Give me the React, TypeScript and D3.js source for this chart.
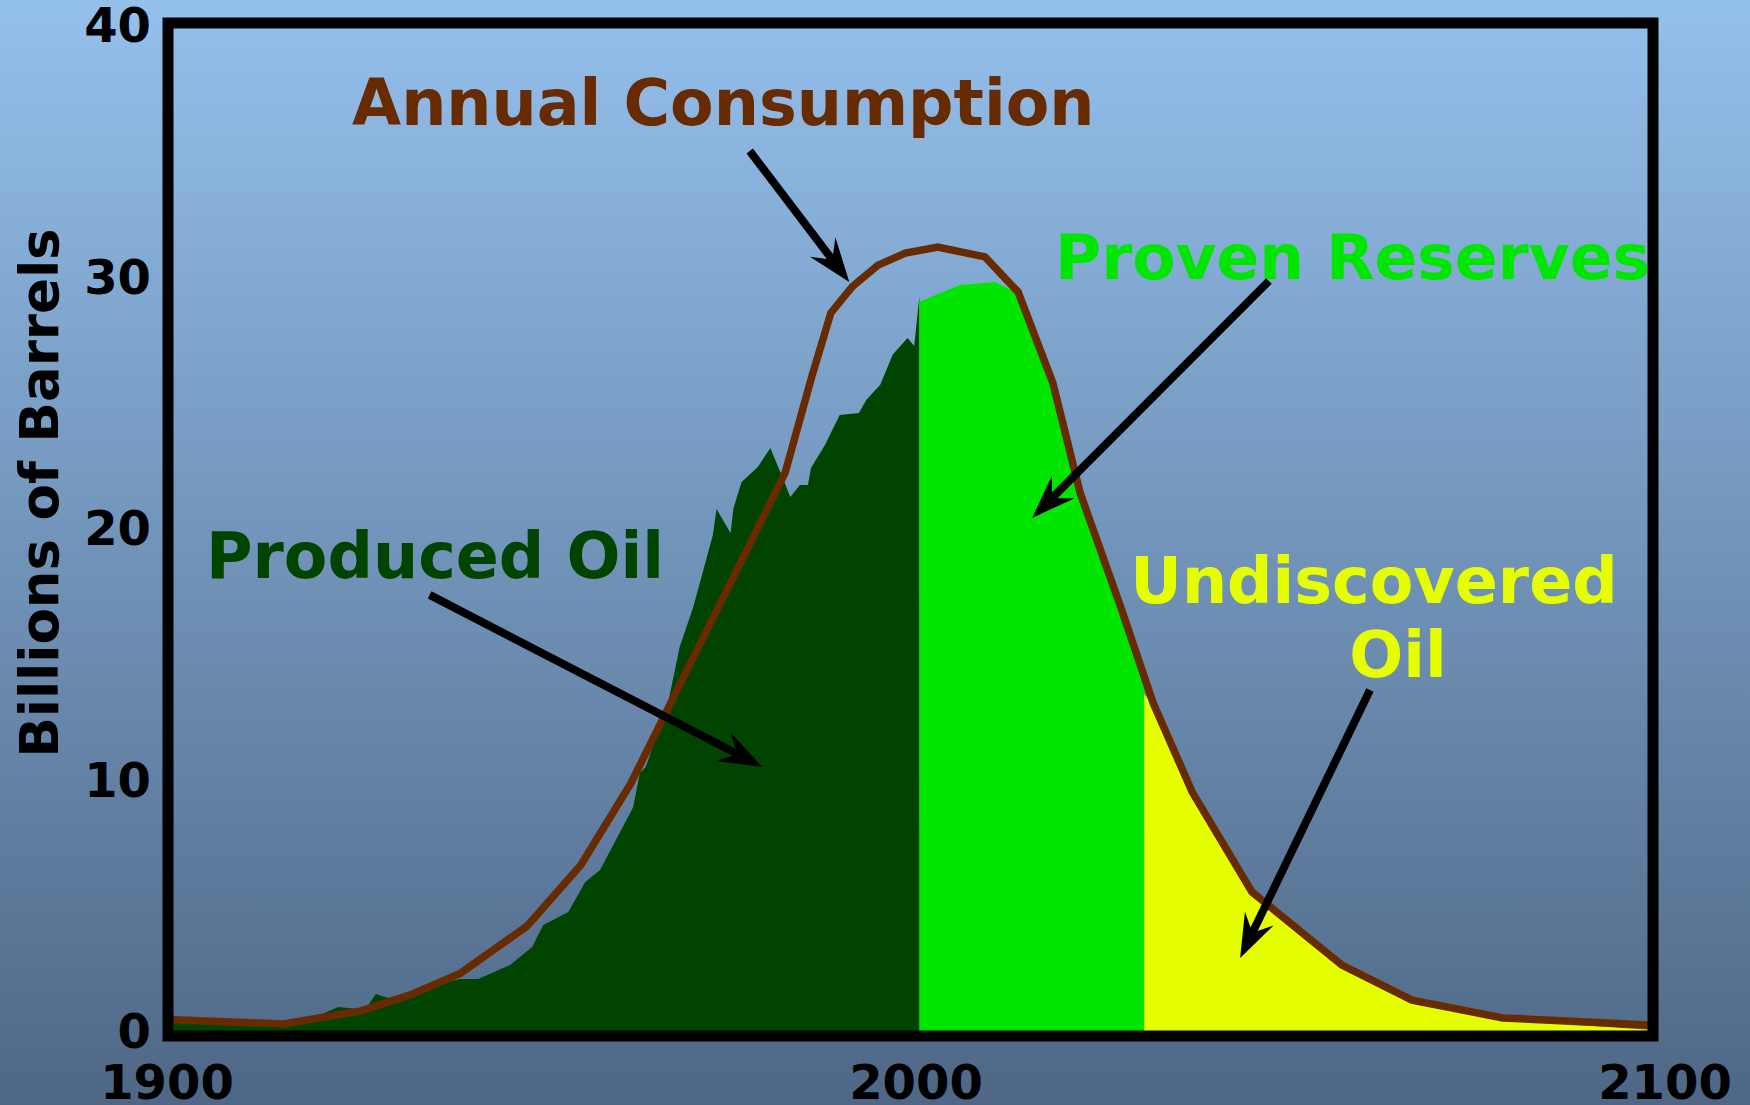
import React from 'react';
import * as d3 from 'd3';

const W = 1750;
const H = 1105;

// Annual consumption (billions of barrels)
const consumptionYears = [1900, 1915, 1925.5, 1932.5, 1939, 1948, 1955.3, 1962, 1983, 1986.6, 1989.2, 1992.1, 1995.6, 1999.3, 2003.7, 2010.1, 2014.6, 2019.3, 2023, 2028.5, 2032.9, 2038.2, 2046.3, 2058.5, 2068, 2080.3, 2100];
const consumptionValues = [0.45, 0.28, 0.8, 1.47, 2.3, 4.17, 6.6, 9.8, 22.2, 26.0, 28.55, 29.6, 30.45, 30.93, 31.17, 30.78, 29.38, 25.77, 21.4, 16.86, 13.04, 9.5, 5.53, 2.62, 1.23, 0.52, 0.24];

// Produced oil (historical production)
const producedYears = [1900, 1915, 1919.9, 1922.4, 1925.1, 1926.4, 1927.5, 1929.2, 1938.9, 1941.4, 1945.7, 1948.7, 1950.2, 1953.6, 1955.9, 1957.9, 1962.4, 1963.3, 1964.1, 1967.1, 1968.7, 1970.5, 1972.1, 1973.2, 1973.7, 1975.6, 1976.0, 1977.1, 1979.3, 1981.0, 1982.4, 1983.7, 1985.0, 1986.1, 1986.5, 1988.4, 1990.4, 1993.0, 1994.0, 1995.9, 1997.6, 1999.6, 2000.5, 2001.2];
const producedValues = [0.35, 0.2, 0.64, 0.95, 0.87, 0.99, 1.47, 1.31, 2.07, 2.07, 2.62, 3.34, 4.21, 4.73, 5.92, 6.4, 8.9, 10.26, 10.5, 13.0, 15.27, 16.82, 18.53, 19.72, 20.76, 19.8, 20.8, 21.83, 22.43, 23.18, 22.19, 21.23, 21.71, 21.71, 22.39, 23.3, 24.49, 24.57, 25.09, 25.7, 26.9, 27.55, 27.24, 29.2];

// Proven reserves
const reservesYears = [2001.2, 2006.7, 2011.5, 2013.9, 2014.6, 2019.3, 2023, 2028.5, 2031.7];
const reservesValues = [29.0, 29.66, 29.78, 29.42, 29.2, 25.6, 21.2, 16.7, 13.6];

// Undiscovered oil
const undiscoveredYears = [2031.7, 2032.9, 2038.2, 2046.3, 2058.5, 2068, 2080.3, 2100];
const undiscoveredValues = [13.4, 12.9, 9.4, 5.45, 2.55, 1.18, 0.45, 0.05];

const yTicks = [0, 10, 20, 30, 40];
const xTicks = [1900, 2000, 2100];

// Arrow annotations: [tailYear, tailValue, tipYear, tipValue]
const arrowConsumption = [1978.2, 34.99, 1991.7, 29.78];
const arrowReserves = [2048.6, 29.82, 2016.5, 20.4];
const arrowProduced = [1934.8, 17.34, 1979.9, 10.5];
const arrowUndiscovered = [2062.3, 13.56, 2044.7, 2.9];

const FONT = '"DejaVu Sans", Verdana, sans-serif';

function zip(a: number[], b: number[]): [number, number][] {
  return a.map((v, i) => [v, b[i]] as [number, number]);
}

function Arrow({ pts, x, y }: { pts: number[]; x: any; y: any }) {
  const x1 = x(pts[0]), y1 = y(pts[1]), x2 = x(pts[2]), y2 = y(pts[3]);
  const dx = x2 - x1, dy = y2 - y1;
  const len = Math.hypot(dx, dy);
  const ux = dx / len, uy = dy / len;
  const px = -uy, py = ux;
  const L = 44, HW = 16, N = 28;
  const b1 = [x2 - ux * L + px * HW, y2 - uy * L + py * HW];
  const b2 = [x2 - ux * L - px * HW, y2 - uy * L - py * HW];
  const nt = [x2 - ux * N, y2 - uy * N];
  const head = `M${x2},${y2}L${b1[0]},${b1[1]}L${nt[0]},${nt[1]}L${b2[0]},${b2[1]}Z`;
  return (
    <g>
      <line x1={x1} y1={y1} x2={nt[0]} y2={nt[1]} stroke="#000" strokeWidth={8} />
      <path d={head} fill="#000" />
    </g>
  );
}

export default function App() {
  const x = d3.scaleLinear().domain([1900, 2100]).range([173, 1648]);
  const xLabel = d3.scaleLinear().domain([1900, 2100]).range([167, 1665]);
  const y = d3.scaleLinear().domain([0, 40]).range([1031, 25]);

  const area = d3.area<[number, number]>().x(d => x(d[0])).y0(y(0)).y1(d => y(d[1]));
  const line = d3.line<[number, number]>().x(d => x(d[0])).y(d => y(d[1]));

  return (
    <svg width={W} height={H} style={{ position: 'absolute', left: 0, top: 0, display: 'block' }} fontFamily={FONT}>
      <defs>
        <linearGradient id="bg" x1="0" y1="0" x2="0" y2="1">
          <stop offset="0" stopColor="#94c0ec" />
          <stop offset="1" stopColor="#4f6786" />
        </linearGradient>
      </defs>
      <rect x={0} y={0} width={W} height={H} fill="url(#bg)" />

      <path d={area(zip(producedYears, producedValues)) || ''} fill="#004400" />
      <path d={area(zip(reservesYears, reservesValues)) || ''} fill="#00e600" />
      <path d={area(zip(undiscoveredYears, undiscoveredValues)) || ''} fill="#e6ff00" />
      <path d={line(zip(consumptionYears, consumptionValues)) || ''} fill="none" stroke="#682b00" strokeWidth={7.5} strokeLinejoin="miter" />

      <rect x={168} y={23} width={1485} height={1013} fill="none" stroke="#000" strokeWidth={11} />

      {yTicks.map(t => (
        <text key={t} x={151} y={y(t) + 17} textAnchor="end" fontSize={48} fontWeight="bold" fill="#000">{t}</text>
      ))}
      {xTicks.map(t => (
        <text key={t} x={xLabel(t)} y={1099} textAnchor="middle" fontSize={48} fontWeight="bold" fill="#000">{t}</text>
      ))}
      <text transform="translate(58,493) rotate(-90)" textAnchor="middle" fontSize={53} fontWeight="bold" fill="#000">Billions of Barrels</text>

      <text x={352} y={125} fontSize={63.5} fontWeight="bold" fill="#682b00">Annual Consumption</text>
      <text x={1055} y={279} fontSize={63} fontWeight="bold" fill="#00e600">Proven Reserves</text>
      <text x={206} y={578} fontSize={63.5} fontWeight="bold" fill="#004400">Produced Oil</text>
      <text x={1374} y={603} textAnchor="middle" fontSize={63.5} fontWeight="bold" fill="#e6ff00">Undiscovered</text>
      <text x={1398} y={677} textAnchor="middle" fontSize={63.5} fontWeight="bold" fill="#e6ff00">Oil</text>

      <Arrow pts={arrowConsumption} x={x} y={y} />
      <Arrow pts={arrowReserves} x={x} y={y} />
      <Arrow pts={arrowProduced} x={x} y={y} />
      <Arrow pts={arrowUndiscovered} x={x} y={y} />
    </svg>
  );
}
